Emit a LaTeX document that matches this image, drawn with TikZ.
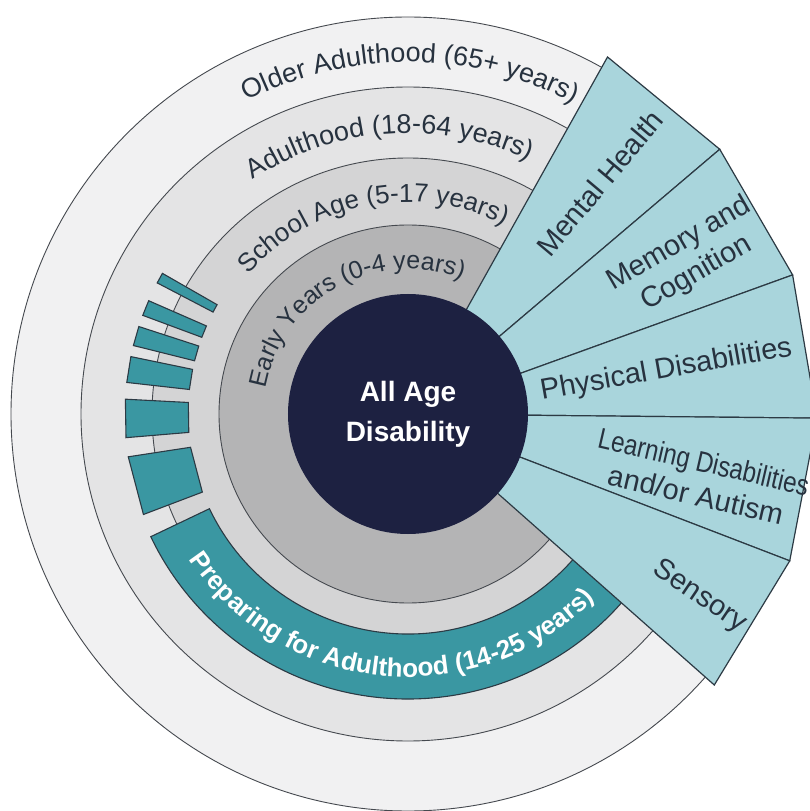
\documentclass[tikz,border=0pt]{standalone}
\usepackage{fontspec}
\setmainfont{Liberation Sans}
\usetikzlibrary{decorations.text}
\definecolor{ringA}{HTML}{F1F1F2}
\definecolor{ringB}{HTML}{E4E4E5}
\definecolor{ringC}{HTML}{D4D4D5}
\definecolor{ringD}{HTML}{B4B4B5}
\definecolor{navy}{HTML}{1D2141}
\definecolor{sky}{HTML}{A9D5DC}
\definecolor{tealc}{HTML}{3A97A2}
\definecolor{txt}{HTML}{27323F}
\definecolor{rline}{HTML}{45494F}
\definecolor{sline}{HTML}{2C3A44}
\newcommand{\ringfont}[1]{\fontsize{#1}{#1}\selectfont\color{txt}}
\tikzset{
  ringdisk/.style={draw=rline, line width=0.9pt},
  tealbox/.style={draw=sline, line width=1.1pt, fill=tealc},
  sector/.style={draw=sline, line width=1.2pt, fill=sky},
  core/.style={circle, fill=navy, minimum size=240pt, inner sep=0pt, align=center,
    text=white, font=\fontsize{28}{40}\selectfont\bfseries},
  lbl/.style={text=txt, inner sep=0pt, font=\fontsize{29}{34}\selectfont}
}
\begin{document}
\begin{tikzpicture}
\useasboundingbox (-408pt,-397pt) rectangle (402pt,414pt);
\fill[white] (-408pt,-397pt) rectangle (402pt,414pt);
% age rings
\draw[ringdisk, fill=ringA] (0,0) circle[radius=397pt];
\draw[ringdisk, fill=ringB] (0,0) circle[radius=327pt];
\draw[ringdisk, fill=ringC] (0,0) circle[radius=256pt];
\draw[ringdisk, fill=ringD] (0,0) circle[radius=189pt];
% preparing for adulthood band
\draw[tealbox] (205.5:220pt) arc[start angle=205.5, end angle=322, radius=220pt]
  -- (322:285pt) arc[start angle=322, end angle=205.5, radius=285pt] -- cycle;
% steps
\foreach \a/\b in {150.2/152.4, 156.4/159.6, 162/166, 168.3/173.6, 177/184.8, 188.7/200.8}
  \draw[tealbox] (\a:220pt) -- (\a:283pt) -- (\b:283pt) -- (\b:220pt) -- cycle;
% disability sectors
\foreach \a/\b in {60.8/40.34, 40.34/19.88, 19.88/-0.58, -0.58/-21.04, -21.04/-41.5}
  \draw[sector] (0,0) -- (\a:409pt) -- (\b:409pt) -- cycle;
% core
\node[core] (core) at (0,0) {All Age\\Disability};
% ring labels
\path[decorate, decoration={text along path, text align=center,
  text={|\ringfont{27}|Older Adulthood (65+ years)}}]
  (169.6:352pt) arc[start angle=169.6, end angle=9.6, radius=352pt];
\path[decorate, decoration={text along path, text align=center,
  text={|\ringfont{27}|Adulthood (18-64 years)}}]
  (174:281pt) arc[start angle=174, end angle=14, radius=281pt];
\path[decorate, decoration={text along path, text align=center,
  text={|\ringfont{26}|School Age (5-17 years)}}]
  (181:212pt) arc[start angle=181, end angle=21, radius=212pt];
\path[decorate, decoration={text along path, text align=center,
  text={|\ringfont{25}|Early Years (0-4 years)}}]
  (199:145pt) arc[start angle=199, end angle=39, radius=145pt];
\path[decorate, decoration={text along path, text align=center,
  text={|\fontsize{26}{26}\selectfont\bfseries\color{white}|Preparing for Adulthood (14-25 years)}}]
  (184.5:263pt) arc[start angle=184.5, end angle=344.5, radius=263pt];
% sector labels
\node[lbl, rotate=50] (mh) at (50.3:300pt) {Mental Health};
\node[lbl, rotate=30, align=center] (mc) at (29:320pt) {Memory and\\Cognition};
\node[lbl, rotate=10] (pd) at (9.6:262pt) {Physical Disabilities};
\node[lbl, rotate=-13, align=center] (ld) at (-12.4:299pt) {\scalebox{0.83}[1]{Learning Disabilities}\\and/or Autism};
\node[lbl, rotate=-34] (se) at (-32.1:344pt) {Sensory};
\end{tikzpicture}
\end{document}
